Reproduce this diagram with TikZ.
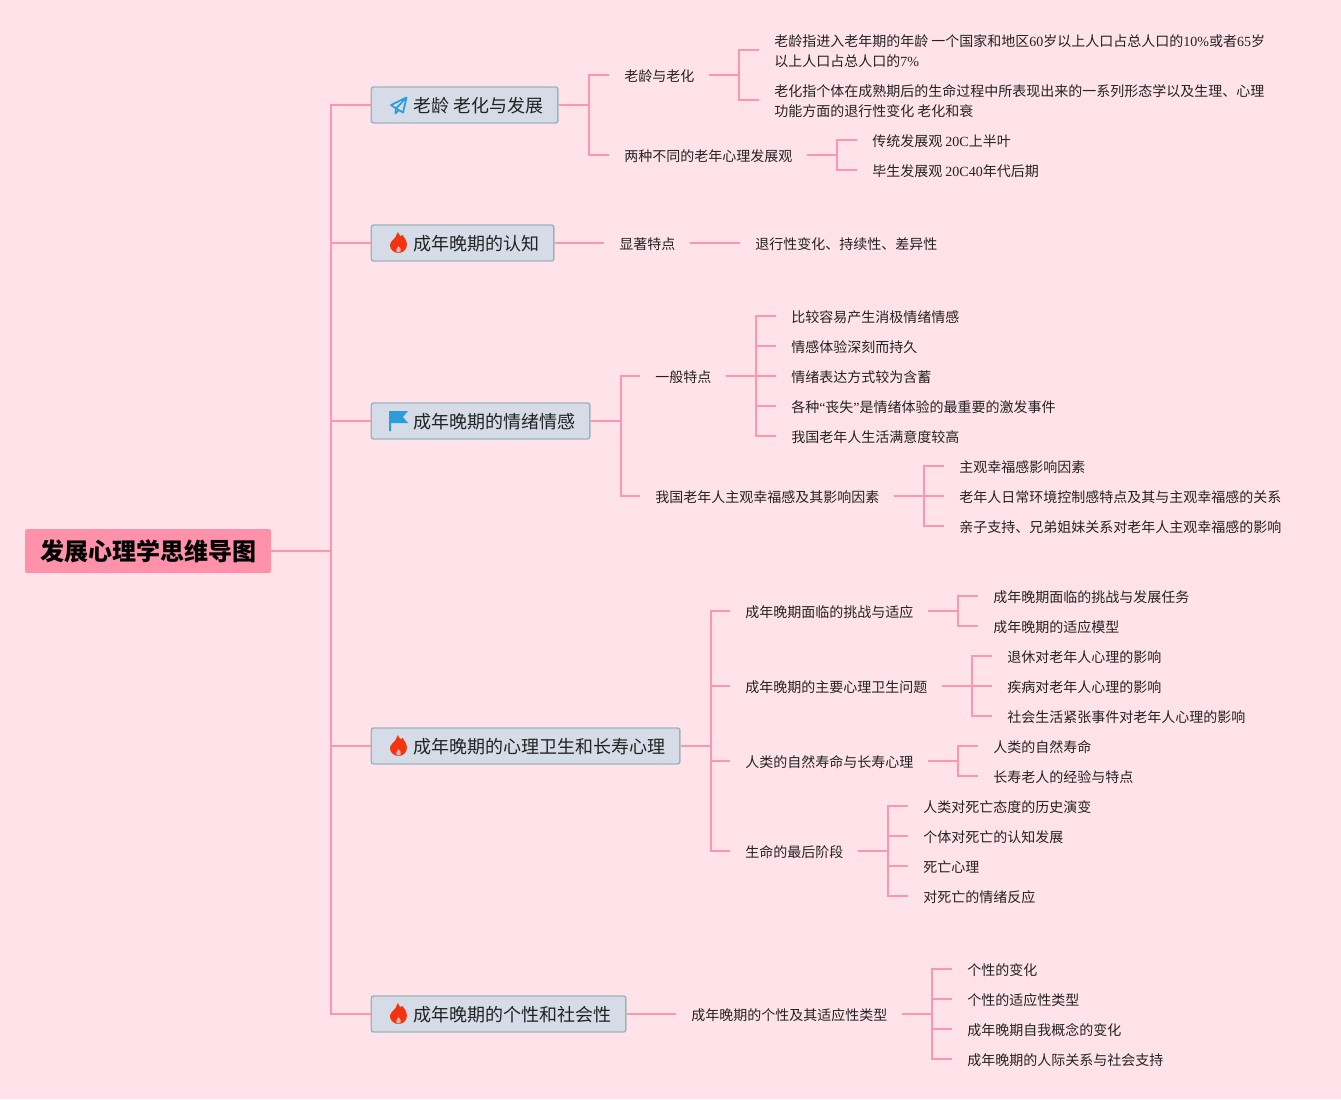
\documentclass[tikz,border=0pt]{standalone}
\usepackage{fontspec}
\setmainfont{Noto Sans CJK SC}
\newfontfamily\latf{Liberation Serif}
\newcommand{\E}[1]{{\latf #1}}
\definecolor{bgc}{HTML}{FFE2EA}
\definecolor{linec}{HTML}{FF96B0}
\definecolor{rootc}{HTML}{FF91AB}
\definecolor{boxc}{HTML}{D5DCE8}
\definecolor{boxb}{HTML}{9DB5B8}
\definecolor{flamec}{HTML}{F5330F}
\definecolor{bluec}{HTML}{2D9CDB}
\definecolor{inkc}{HTML}{222222}
\tikzset{
  x=0.75pt,y=-0.75pt,
  conn/.style={draw=linec,line width=1.5pt,line join=miter},
  rootbox/.style={fill=rootc,rounded corners=1.5pt,minimum width=184.5pt,minimum height=33pt,inner sep=0pt,text=black,font=\fontsize{18pt}{22pt}\selectfont\bfseries},
  branchbox/.style={fill=boxc,draw=boxb,line width=1.1pt,rounded corners=1.8pt,minimum height=27pt,inner ysep=0pt,inner xsep=0pt,anchor=west,text=inkc,font=\fontsize{13.5pt}{16pt}\selectfont},
  item/.style={anchor=west,inner xsep=11.25pt,inner ysep=0pt,text=inkc,align=left,font=\fontsize{10.5pt}{15.2pt}\selectfont},
}
% text sits 1px below the connector that reaches it
\newcommand{\tn}[4]{\node[item,yshift=-0.75pt] (#1) at ({#2-15},#3) {#4};}
\newcommand{\bx}[3]{\node[branchbox] (#1) at (370.5,#2) {\hspace{31.9pt}\raisebox{-1.4pt}{#3}\hspace{10.6pt}\vphantom{成}};}
% connector from a branch box to its items
\newcommand{\bbrk}[3]{\foreach \c in {#3}{\draw[conn] (#1.east) -- ++(#2,0) |- ([yshift=0.75pt]\c.west);}}
% connector from an item to its items
\newcommand{\brk}[2]{\foreach \c in {#2}{\draw[conn] ([xshift=-0.75pt,yshift=0.75pt]#1.east) -- ++(30,0) |- ([yshift=0.75pt]\c.west);}}
\newcommand{\flame}[2]{\begin{scope}[shift={(#1,#2)}]
 \fill[flamec] (-0.5,-11) .. controls (1,-6) and (3,-6) .. (4,-8) -- (4.6,-7) .. controls (8,-3) and (9,1) .. (8,4) .. controls (7,8) and (3,10) .. (0,10) .. controls (-4,10) and (-8,7) .. (-8.5,3) .. controls (-9,-1) and (-5,-3) .. (-3,-6) .. controls (-2,-8) and (-1.5,-9.5) .. (-0.5,-11) -- cycle;
 \fill[boxc!75!flamec] (0,3) .. controls (2,5) and (3,7) .. (2.2,8.5) .. controls (1.2,10) and (-1.2,10) .. (-2.2,8.5) .. controls (-3,7) and (-1.5,5) .. (0,3) -- cycle;
\end{scope}}
\begin{document}
\begin{tikzpicture}
\useasboundingbox (0,0) rectangle (1341,1099);
\fill[bgc] (0,0) rectangle (1341,1099);

% root and branches
\node[rootbox] (root) at (148,551) {\raisebox{-2.2pt}{发展心理学思维导图}};
\bx{b1}{105}{老龄 老化与发展}
\bx{b2}{243}{成年晚期的认知}
\bx{b3}{421}{成年晚期的情绪情感}
\bx{b4}{746}{成年晚期的心理卫生和长寿心理}
\bx{b5}{1014}{成年晚期的个性和社会性}

% branch 1
\tn{a1}{624}{75}{老龄与老化}
\tn{a2}{624}{155}{两种不同的老年心理发展观}
\tn{a11}{774}{50}{老龄指进入老年期的年龄 一个国家和地区\E{60}岁以上人口占总人口的\E{10\%}或者\E{65}岁\\以上人口占总人口的\E{7\%}}
\tn{a12}{774}{100}{老化指个体在成熟期后的生命过程中所表现出来的一系列形态学以及生理、心理\\功能方面的退行性变化 老化和衰}
\tn{a21}{872}{140}{传统发展观 \E{20C}上半叶}
\tn{a22}{872}{170}{毕生发展观 \E{20C40}年代后期}
% branch 2
\tn{c1}{619}{243}{显著特点}
\tn{c11}{755}{243}{退行性变化、持续性、差异性}
% branch 3
\tn{d1}{655}{376}{一般特点}
\tn{d2}{655}{496}{我国老年人主观幸福感及其影响因素}
\tn{d11}{791}{316}{比较容易产生消极情绪情感}
\tn{d12}{791}{346}{情感体验深刻而持久}
\tn{d13}{791}{376}{情绪表达方式较为含蓄}
\tn{d14}{791}{406}{各种\E{“}丧失\E{”}是情绪体验的最重要的激发事件}
\tn{d15}{791}{436}{我国老年人生活满意度较高}
\tn{d21}{959}{466}{主观幸福感影响因素}
\tn{d22}{959}{496}{老年人日常环境控制感特点及其与主观幸福感的关系}
\tn{d23}{959}{526}{亲子支持、兄弟姐妹关系对老年人主观幸福感的影响}
% branch 4
\tn{e1}{745}{611}{成年晚期面临的挑战与适应}
\tn{e2}{745}{686}{成年晚期的主要心理卫生问题}
\tn{e3}{745}{761}{人类的自然寿命与长寿心理}
\tn{e4}{745}{851}{生命的最后阶段}
\tn{e11}{993}{596}{成年晚期面临的挑战与发展任务}
\tn{e12}{993}{626}{成年晚期的适应模型}
\tn{e21}{1007}{656}{退休对老年人心理的影响}
\tn{e22}{1007}{686}{疾病对老年人心理的影响}
\tn{e23}{1007}{716}{社会生活紧张事件对老年人心理的影响}
\tn{e31}{993}{746}{人类的自然寿命}
\tn{e32}{993}{776}{长寿老人的经验与特点}
\tn{e41}{923}{806}{人类对死亡态度的历史演变}
\tn{e42}{923}{836}{个体对死亡的认知发展}
\tn{e43}{923}{866}{死亡心理}
\tn{e44}{923}{896}{对死亡的情绪反应}
% branch 5
\tn{f1}{691}{1014}{成年晚期的个性及其适应性类型}
\tn{f11}{967}{969}{个性的变化}
\tn{f12}{967}{999}{个性的适应性类型}
\tn{f13}{967}{1029}{成年晚期自我概念的变化}
\tn{f14}{967}{1059}{成年晚期的人际关系与社会支持}

% connectors
\foreach \c in {b1,b2,b3,b4,b5}{\draw[conn] (root.east) -- ++(60,0) |- (\c.west);}
\bbrk{b1}{30}{a1,a2}
\brk{a1}{a11,a12}
\brk{a2}{a21,a22}
\draw[conn] (b2.east) -- ([yshift=0.75pt]c1.west);
\draw[conn] ([xshift=-0.75pt,yshift=0.75pt]c1.east) -- ([yshift=0.75pt]c11.west);
\bbrk{b3}{30}{d1,d2}
\brk{d1}{d11,d12,d13,d14,d15}
\brk{d2}{d21,d22,d23}
\bbrk{b4}{30}{e1,e2,e3,e4}
\brk{e1}{e11,e12}
\brk{e2}{e21,e22,e23}
\brk{e3}{e31,e32}
\brk{e4}{e41,e42,e43,e44}
\draw[conn] (b5.east) -- ([yshift=0.75pt]f1.west);
\brk{f1}{f11,f12,f13,f14}

% icons
\draw[bluec,line width=1.3pt,line join=round] (406.5,97.5) -- (391,105) -- (396,108.5) -- (403,112.5) -- cycle;
\draw[bluec,line width=1.3pt,line join=round] (406.5,97.5) -- (396,108.5) -- (395.5,113.5) -- (398.5,110.5);
\flame{398.5}{243}
\fill[bluec] (389,411) -- (408,411) -- (403,417) -- (408,423) -- (391,423) -- (391,431) -- (389,431) -- cycle;
\flame{398.5}{746}
\flame{398.5}{1014}
\end{tikzpicture}
\end{document}
